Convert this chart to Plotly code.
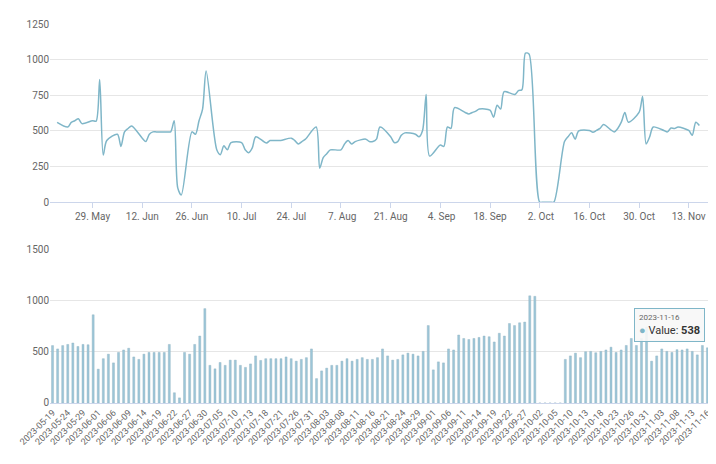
import pandas as pd
import plotly.graph_objects as go

# weekday dates, 2023-05-19 .. 2023-11-16
dates = pd.bdate_range("2023-05-19", "2023-11-16").strftime("%Y-%m-%d").tolist()

values = (
    [560]
    + [527, 560, 571, 585, 551]
    + [571, 568, 860, 330, 432]
    + [476, 391, 493, 517, 534]
    + [449, 425, 476, 493, 493]
    + [493, 493, 571, 100, 50]
    + [493, 476, 571, 653, 920]
    + [367, 333, 395, 367, 418]
    + [418, 367, 347, 381, 459]
    + [415, 432, 432, 432, 432]
    + [449, 432, 408, 425, 442]
    + [527, 238, 313, 340, 367]
    + [367, 408, 432, 408, 425]
    + [442, 425, 425, 442, 527]
    + [459, 418, 425, 469, 486]
    + [476, 459, 503, 755, 323]
    + [401, 391, 527, 517, 663]
    + [629, 619, 629, 639, 653]
    + [646, 595, 680, 653, 775]
    + [755, 782, 789, 1045, 1040]
    + [0, 0, 0, 0, 0]
    + [425, 459, 486, 442, 500]
    + [503, 490, 503, 517, 544]
    + [493, 517, 561, 629, 561]
    + [629, 741, 408, 459, 527]
    + [503, 493, 520, 517, 527]
    + [503, 469, 561, 538]
)

line_color = "#7fb6c8"
bar_color = "#9cc6d8"
grid = "#e6e6e6"
tick_font = dict(family="Roboto", size=10, color="#666666")

fig = go.Figure()

# top: spline over time
fig.add_trace(go.Scatter(
    x=dates, y=values, mode="lines", line=dict(color=line_color, width=1.5, shape="spline", smoothing=0.8),
    xaxis="x", yaxis="y", showlegend=False, hoverinfo="skip"))

# bottom: bars by category
fig.add_trace(go.Bar(
    x=dates, y=values, marker=dict(color=bar_color, line=dict(color="#8fb0bf", width=0.4)),
    xaxis="x2", yaxis="y2", showlegend=False, name="Value"))

fig.update_layout(
    width=716, height=464,
    margin=dict(l=42, r=14, t=16, b=69),
    plot_bgcolor="white", paper_bgcolor="white",
    bargap=0.6,
    xaxis=dict(domain=[0, 1], anchor="y", type="date", automargin=False,
               range=["2023-05-17", "2023-11-19"],
               tick0="2023-05-29", dtick=14 * 86400000, tickformat="%e. %b",
               showgrid=False, showline=True, linecolor="#ccd6eb",
               ticks="outside", ticklen=5, tickcolor="#ccd6eb",
               tickfont=tick_font),
    yaxis=dict(domain=[0.53, 1], anchor="x", range=[0, 1250], dtick=250, automargin=False,
               gridcolor=grid, zeroline=False, tickfont=tick_font),
    xaxis2=dict(domain=[0, 1], anchor="y2", type="category", automargin=False,
                tickmode="array", tickvals=dates[::3], ticktext=dates[::3],
                tickangle=-45, showgrid=False, showline=True, linecolor="#ccd6eb",
                tickfont=dict(family="Roboto", size=9, color="#666666")),
    yaxis2=dict(domain=[0, 0.406], anchor="x2", range=[0, 1500], dtick=500, automargin=False,
                gridcolor=grid, zeroline=False, tickfont=tick_font),
)

# pinned tooltip on the last bar
fig.add_annotation(
    x=dates[-1], y=values[-1], xref="x2", yref="y2",
    text=f"<span style='font-size:8px;color:#666'>{dates[-1]}</span><br>"
         f"<span style='color:{line_color}'>●</span> Value: <b>{values[-1]}</b>",
    showarrow=False, xanchor="right", yanchor="bottom", xshift=-2, yshift=6,
    align="left", bgcolor="rgba(247,247,247,0.9)", bordercolor=line_color,
    borderwidth=1, borderpad=4, font=dict(family="Roboto", size=11, color="#333"))

fig.write_html("out.html")
